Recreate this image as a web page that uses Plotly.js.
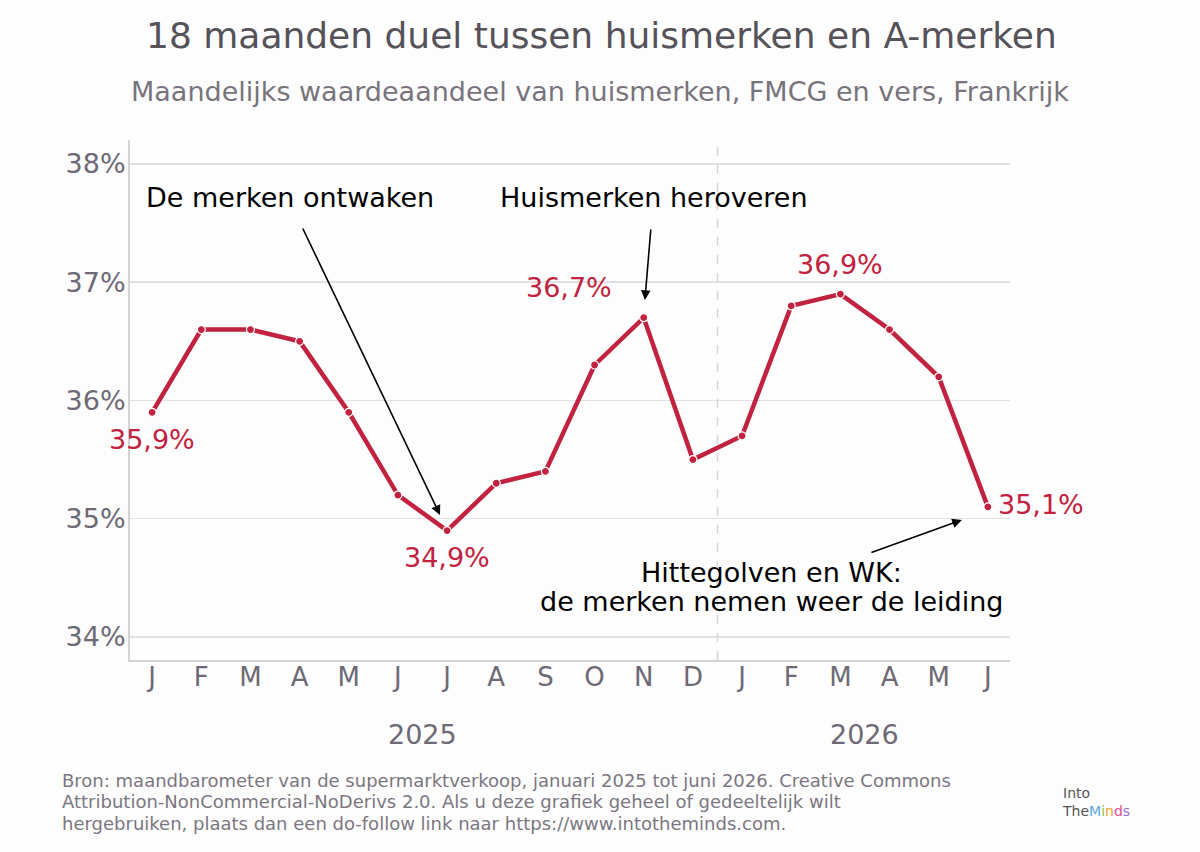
<!DOCTYPE html>
<html><head><meta charset="utf-8">
<script src="https://cdn.plot.ly/plotly-3.0.1.min.js"></script>
<style>html,body{margin:0;padding:0;background:#fefdfe;}#chart{width:1200px;height:852px;}</style>
</head><body><div id="chart"></div>
<script>
const monthLabels = ["J","F","M","A","M","J","J","A","S","O","N","D","J","F","M","A","M","J"];
const shareValues = [35.9,36.6,36.6,36.5,35.9,35.2,34.9,35.3,35.4,36.3,36.7,35.5,35.7,36.8,36.9,36.6,36.2,35.1];
const yearLabels = ["2025","2026"];
const yTicks = [34,35,36,37,38];
const labelledPoints = [0,6,10,14,17];
const footerLines = [
  "Bron: maandbarometer van de supermarktverkoop, januari 2025 tot juni 2026. Creative Commons",
  "Attribution-NonCommercial-NoDerivs 2.0. Als u deze grafiek geheel of gedeeltelijk wilt",
  "hergebruiken, plaats dan een do-follow link naar https://www.intotheminds.com."
];
const heatLines = ["Hittegolven en WK:","de merken nemen weer de leiding"];

const idx = shareValues.map((v,i)=>i);
const red = "#c0223f";
const F = "DejaVu Sans, sans-serif";
const gray = "#6d6a75";

// plot area: top 140, height 520, left 130, width 880
const py = p => 1 + (140 - p)/520;
const px = p => (p - 130)/880;

const valueLabelPos = {0:{xs:0,ys:-27,xa:"center"},6:{xs:0,ys:-27,xa:"center"},10:{xs:-30,ys:30,xa:"right"},14:{xs:0,ys:30,xa:"center"},17:{xs:8,ys:2,xa:"left"}};
const annotations = [];
labelledPoints.forEach(i=>{
  const p = valueLabelPos[i];
  annotations.push({x:i,y:shareValues[i],xref:"x",yref:"y",text:shareValues[i].toFixed(1).replace(".",",")+"%",
    showarrow:false,xanchor:p.xa,yanchor:"middle",xshift:p.xs,yshift:p.ys,font:{family:F,size:27,color:red}});
});
// title + subtitle
annotations.push({x:px(601),y:py(35),xref:"paper",yref:"paper",xanchor:"center",yanchor:"middle",showarrow:false,
  text:"18 maanden duel tussen huismerken en A-merken",font:{family:F,size:36,color:"#555259"}});
annotations.push({x:px(600),y:py(92),xref:"paper",yref:"paper",xanchor:"center",yanchor:"middle",showarrow:false,
  text:"Maandelijks waardeaandeel van huismerken, FMCG en vers, Frankrijk",font:{family:F,size:27,color:"#77747c"}});
// year labels
annotations.push({x:5.5,y:py(734),xref:"x",yref:"paper",yanchor:"middle",text:yearLabels[0],showarrow:false,font:{family:F,size:27,color:gray}});
annotations.push({x:14.5,y:py(734),xref:"x",yref:"paper",yanchor:"middle",text:yearLabels[1],showarrow:false,font:{family:F,size:27,color:gray}});
// story annotations
const arrowStyle = {showarrow:true,arrowhead:2,arrowsize:1.2,arrowwidth:1.6,arrowcolor:"#000",text:"",xref:"x",yref:"y",axref:"x",ayref:"y",standoff:0,startstandoff:0};
annotations.push(Object.assign({x:5.856,y:35.032,ax:3.05,ay:37.467},arrowStyle));
annotations.push({x:2.81,y:37.72,xref:"x",yref:"y",text:"De merken ontwaken",showarrow:false,font:{family:F,size:27,color:"#000"}});
annotations.push(Object.assign({x:10.024,y:36.85,ax:10.146,ay:37.459},arrowStyle));
annotations.push({x:10.2,y:37.72,xref:"x",yref:"y",text:"Huismerken heroveren",showarrow:false,font:{family:F,size:27,color:"#000"}});
annotations.push(Object.assign({x:16.47,y:34.99,ax:14.6,ay:34.71},arrowStyle));
[572,601].forEach((yy,k)=>{
  annotations.push({x:px(771),y:py(yy),xref:"paper",yref:"paper",text:heatLines[k],showarrow:false,xanchor:"center",yanchor:"middle",font:{family:F,size:27,color:"#000"}});
});
// footer
[780,801.5,823].forEach((yy,k)=>{
  annotations.push({x:px(60),y:py(yy),xref:"paper",yref:"paper",xanchor:"left",yanchor:"middle",showarrow:false,
    text:footerLines[k],font:{family:F,size:18,color:"#7a7780"}});
});
// logo text
annotations.push({x:px(1060),y:py(802),xref:"paper",yref:"paper",xanchor:"left",yanchor:"middle",showarrow:false,align:"left",
  text:"Into<br>The<span style='color:#5aa9e0'>M</span><span style='color:#8bc34a'>i</span><span style='color:#f0a030'>n</span><span style='color:#e05090'>d</span><span style='color:#9b6ccf'>s</span>",
  font:{family:F,size:14,color:"#555"}});

const trace = {x:idx,y:shareValues,type:"scatter",mode:"lines+markers",
  line:{color:red,width:4.5},marker:{size:8,color:red,line:{color:"#fff",width:1.2}},hoverinfo:"skip"};

const layout = {
  width:1200,height:852,paper_bgcolor:"#fefdfe",plot_bgcolor:"#fefdfe",
  margin:{l:130,r:190,t:140,b:192},
  showlegend:false,
  xaxis:{range:[-0.45,17.45],tickmode:"array",tickvals:idx,ticktext:monthLabels,showgrid:false,zeroline:false,
    showline:true,linecolor:"#d4d1d7",linewidth:2,ticks:"",ticklabelstandoff:-7,tickfont:{family:F,size:26,color:gray},fixedrange:true},
  yaxis:{range:[33.805,38.203],tickmode:"array",tickvals:yTicks,ticktext:yTicks.map(v=>v+"%"),showgrid:true,gridcolor:"#e2e0e4",gridwidth:1.5,
    zeroline:false,showline:true,linecolor:"#d4d1d7",linewidth:2,ticks:"",ticklabelstandoff:-3,tickfont:{family:F,size:27,color:gray},fixedrange:true},
  shapes:[{type:"line",xref:"x",yref:"paper",x0:11.5,x1:11.5,y0:0,y1:1,line:{color:"#d8d6da",width:1.5,dash:"dash"}}],
  annotations:annotations
};
Plotly.newPlot("chart",[trace],layout,{displayModeBar:false,staticPlot:true});
</script></body></html>
